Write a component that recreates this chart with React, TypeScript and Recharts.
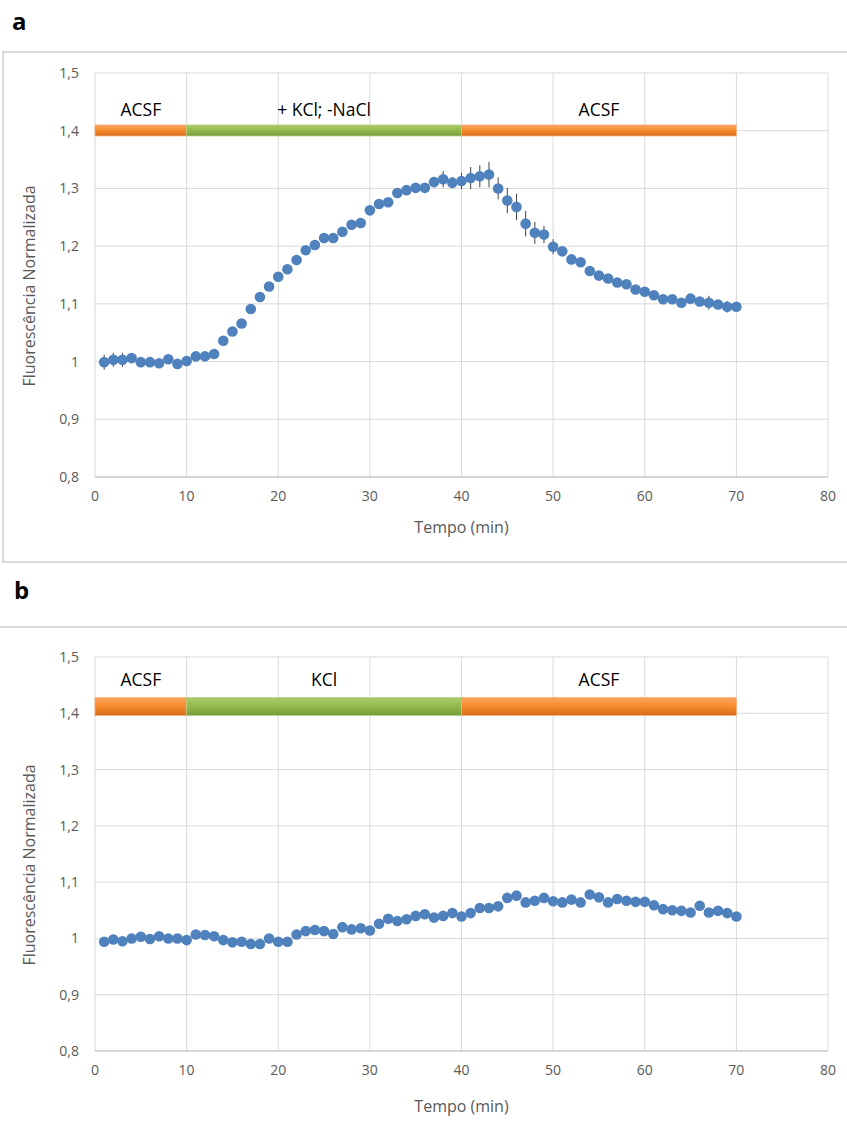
import {
  ScatterChart,
  Scatter,
  XAxis,
  YAxis,
  CartesianGrid,
  ReferenceArea,
  ErrorBar,
} from 'recharts'

// time points (min)
const minutes = [
  1, 2, 3, 4, 5, 6, 7, 8, 9, 10, 11, 12, 13, 14, 15, 16, 17, 18, 19, 20,
  21, 22, 23, 24, 25, 26, 27, 28, 29, 30, 31, 32, 33, 34, 35, 36, 37, 38, 39, 40,
  41, 42, 43, 44, 45, 46, 47, 48, 49, 50, 51, 52, 53, 54, 55, 56, 57, 58, 59, 60,
  61, 62, 63, 64, 65, 66, 67, 68, 69, 70,
]

// a: KCl with NaCl removed
const fluorA = [
  0.999, 1.003, 1.003, 1.006, 0.999, 0.999, 0.997, 1.004, 0.996, 1.001,
  1.009, 1.009, 1.013, 1.036, 1.052, 1.066, 1.091, 1.112, 1.13, 1.147,
  1.16, 1.176, 1.193, 1.202, 1.214, 1.214, 1.225, 1.237, 1.24, 1.262,
  1.273, 1.276, 1.292, 1.297, 1.301, 1.301, 1.311, 1.316, 1.31, 1.313,
  1.318, 1.321, 1.324, 1.3, 1.279, 1.268, 1.239, 1.223, 1.22, 1.199,
  1.191, 1.177, 1.172, 1.157, 1.149, 1.144, 1.137, 1.134, 1.125, 1.121,
  1.115, 1.108, 1.108, 1.102, 1.109, 1.104, 1.102, 1.099, 1.095, 1.095,
]
const errA = [
  0.013, 0.012, 0.012, 0.008, 0.004, 0.004, 0.004, 0.006, 0.004, 0.004,
  0.004, 0.004, 0.004, 0.004, 0.004, 0.004, 0.004, 0.004, 0.004, 0.004,
  0.004, 0.004, 0.004, 0.004, 0.004, 0.004, 0.004, 0.004, 0.004, 0.004,
  0.004, 0.004, 0.004, 0.004, 0.005, 0.005, 0.009, 0.014, 0.01, 0.014,
  0.019, 0.019, 0.022, 0.019, 0.022, 0.023, 0.022, 0.019, 0.015, 0.013,
  0.006, 0.006, 0.005, 0.004, 0.004, 0.004, 0.004, 0.004, 0.004, 0.004,
  0.004, 0.004, 0.004, 0.005, 0.006, 0.008, 0.012, 0.006, 0.01, 0.008,
]

// b: KCl only
const fluorB = [
  0.994, 0.998, 0.995, 1.0, 1.003, 0.999, 1.004, 1.0, 1.0, 0.997,
  1.007, 1.006, 1.004, 0.997, 0.993, 0.994, 0.99, 0.99, 1.0, 0.994,
  0.994, 1.007, 1.013, 1.015, 1.013, 1.008, 1.02, 1.016, 1.018, 1.014,
  1.026, 1.035, 1.031, 1.034, 1.04, 1.043, 1.037, 1.04, 1.045, 1.039,
  1.045, 1.054, 1.054, 1.057, 1.072, 1.076, 1.064, 1.067, 1.072, 1.066,
  1.064, 1.069, 1.064, 1.078, 1.073, 1.064, 1.07, 1.067, 1.065, 1.065,
  1.059, 1.052, 1.05, 1.049, 1.046, 1.058, 1.046, 1.049, 1.045, 1.039,
]

const xTicks = [0, 10, 20, 30, 40, 50, 60, 70, 80]
const yTicks = [0.8, 0.9, 1.0, 1.1, 1.2, 1.3, 1.4, 1.5]

const phasesA = [
  { label: 'ACSF', from: 0, to: 10, kind: 'acsf' },
  { label: '+ KCl; -NaCl', from: 10, to: 40, kind: 'kcl' },
  { label: 'ACSF', from: 40, to: 70, kind: 'acsf' },
]
const phasesB = [
  { label: 'ACSF', from: 0, to: 10, kind: 'acsf' },
  { label: 'KCl', from: 10, to: 40, kind: 'kcl' },
  { label: 'ACSF', from: 40, to: 70, kind: 'acsf' },
]
// vertical extent of the perfusion bars
const bandA = [1.391, 1.41]
const bandB = [1.396, 1.428]

const FONT = '"Open Sans", "Liberation Sans", sans-serif'
const GREY = '#595959'
const DOT = '#4f81bd'

const fmtY = (v: number) => (v === 1 ? '1' : v.toFixed(1).replace('.', ','))

function YTitle({ viewBox }: any) {
  const x = viewBox.x + 26
  const y = viewBox.y + viewBox.height / 2 + 11
  return (
    <text
      x={x}
      y={y}
      transform={`rotate(-90, ${x}, ${y})`}
      textAnchor="middle"
      dominantBaseline="central"
      fill={GREY}
      fontSize={16}
      fontFamily={FONT}
    >
      Fluorescência Normalizada
    </text>
  )
}

function XTitle({ viewBox, drop }: any) {
  return (
    <text
      x={viewBox.x + viewBox.width / 2}
      y={viewBox.y + drop}
      textAnchor="middle"
      dominantBaseline="central"
      fill={GREY}
      fontSize={16}
      fontFamily={FONT}
    >
      Tempo (min)
    </text>
  )
}

interface PanelProps {
  id: string
  values: number[]
  errors?: number[]
  phases: { label: string; from: number; to: number; kind: string }[]
  band: number[]
  width: number
  height: number
  top: number
  axisHeight: number
  titleDrop: number
  labelGap: number
}

function Panel({ id, values, errors, phases, band, width, height, top, axisHeight, titleDrop, labelGap }: PanelProps) {
  const data = minutes.map((t, i) => ({ t, v: values[i], err: errors ? errors[i] : 0 }))
  return (
    <ScatterChart width={width} height={height} margin={{ top, right: 19, bottom: 0, left: 0 }}>
      <defs>
        <linearGradient id={`acsf-${id}`} x1="0" y1="0" x2="0" y2="1">
          <stop offset="0%" stopColor="#fba45f" />
          <stop offset="50%" stopColor="#f68b2c" />
          <stop offset="100%" stopColor="#d66c1c" />
        </linearGradient>
        <linearGradient id={`kcl-${id}`} x1="0" y1="0" x2="0" y2="1">
          <stop offset="0%" stopColor="#aacb68" />
          <stop offset="50%" stopColor="#93b94d" />
          <stop offset="100%" stopColor="#759a38" />
        </linearGradient>
      </defs>
      <CartesianGrid stroke="#d9d9d9" strokeWidth={1} />
      <XAxis
        type="number"
        dataKey="t"
        domain={[0, 80]}
        ticks={xTicks}
        height={axisHeight}
        tickLine={false}
        axisLine={{ stroke: '#bfbfbf' }}
        tickMargin={8}
        tick={{ fill: GREY, fontSize: 14, fontFamily: FONT }}
        label={<XTitle drop={titleDrop} />}
      />
      <YAxis
        type="number"
        dataKey="v"
        domain={[0.8, 1.5]}
        ticks={yTicks}
        width={92}
        tickLine={false}
        axisLine={false}
        tickMargin={10}
        tickFormatter={fmtY}
        tick={{ fill: GREY, fontSize: 14, fontFamily: FONT }}
        label={<YTitle />}
      />
      {phases.map((p, i) => (
        <ReferenceArea
          key={i}
          x1={p.from}
          x2={p.to}
          y1={band[0]}
          y2={band[1]}
          fill={`url(#${p.kind}-${id})`}
          fillOpacity={1}
          stroke={p.kind === 'acsf' ? '#f7b07a' : '#b5d083'}
          strokeWidth={0.8}
          ifOverflow="visible"
          label={{ value: p.label, position: 'top', offset: labelGap, fill: '#000', fontSize: 17.5, fontFamily: FONT }}
        />
      ))}
      {errors && (
        <Scatter data={data} isAnimationActive={false} shape={() => <g />}>
          <ErrorBar dataKey="err" direction="y" width={0} stroke="#404040" strokeWidth={1} />
        </Scatter>
      )}
      <Scatter
        data={data}
        isAnimationActive={false}
        shape={(p: any) => <circle cx={p.cx} cy={p.cy} r={5.3} fill={DOT} />}
      />
    </ScatterChart>
  )
}

export default function App() {
  return (
    <div
      style={{
        position: 'absolute',
        left: 0,
        top: 0,
        width: 847,
        height: 1142,
        background: '#fff',
        fontFamily: FONT,
        overflow: 'hidden',
      }}
    >
      <div style={{ position: 'absolute', left: 12, top: 4, fontSize: 24, fontWeight: 700, color: '#000' }}>a</div>
      <div
        style={{
          position: 'absolute',
          left: 2,
          top: 51,
          width: 850,
          height: 508,
          border: '2px solid #d9d9d9',
        }}
      />
      <div style={{ position: 'absolute', left: 3, top: 52 }}>
        <Panel
          id="a"
          values={fluorA}
          errors={errA}
          phases={phasesA}
          band={bandA}
          width={844}
          height={508}
          top={21}
          axisHeight={83}
          titleDrop={50}
          labelGap={9}
        />
      </div>

      <div style={{ position: 'absolute', left: 14, top: 573, fontSize: 24, fontWeight: 700, color: '#000' }}>b</div>
      <div style={{ position: 'absolute', left: 0, top: 626, width: 847, height: 0, borderTop: '2px solid #d9d9d9' }} />
      <div style={{ position: 'absolute', left: 3, top: 627 }}>
        <Panel
          id="b"
          values={fluorB}
          phases={phasesB}
          band={bandB}
          width={844}
          height={515}
          top={30}
          axisHeight={91}
          titleDrop={55}
          labelGap={12}
        />
      </div>
    </div>
  )
}
